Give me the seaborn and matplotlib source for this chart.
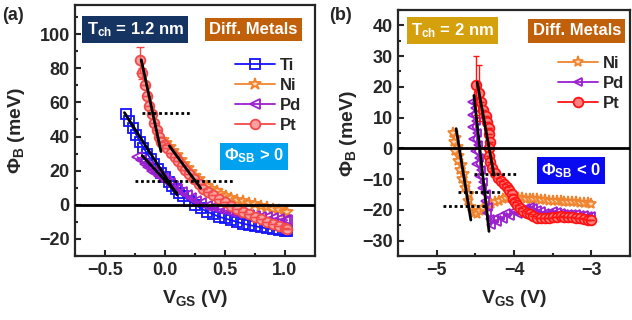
import numpy as np
import pandas as pd
import seaborn as sns
import matplotlib
matplotlib.use("Agg")
from matplotlib import pyplot as plt
from matplotlib.ticker import AutoMinorLocator, MultipleLocator

# ---------------------------------------------------------------- data (a)
# T_ch = 1.2 nm
ti_x = [-0.33, -0.30, -0.27, -0.24, -0.21, -0.18, -0.15, -0.12, -0.09, -0.06, -0.03, 0.0,
        0.03, 0.06, 0.09, 0.12, 0.15, 0.20, 0.25, 0.30, 0.35, 0.40, 0.45, 0.50, 0.55, 0.60,
        0.65, 0.70, 0.75, 0.80, 0.85, 0.90, 0.95, 1.00, 1.02]
ti_y = [53, 49, 45, 41, 37, 33.5, 30, 27, 24, 21, 18.5, 16, 13.5, 11, 9, 7, 5, 2.5, 0,
        -2, -4, -5.5, -7, -8, -9, -10, -11, -11.8, -12.5, -13.2, -13.8, -14.4, -15, -15.4, -15.6]

ni_a_x = [-0.02, 0.01, 0.04, 0.07, 0.10, 0.13, 0.16, 0.19, 0.22, 0.25, 0.28, 0.31, 0.35,
          0.39, 0.43, 0.47, 0.51, 0.55, 0.60, 0.65, 0.70, 0.75, 0.80, 0.85, 0.90, 0.95, 1.00, 1.02]
ni_a_y = [38, 36, 34, 31.5, 29, 26.5, 24, 21.5, 19, 17, 15, 13, 11, 9.5, 8, 6.5, 5.2, 4,
          3, 2, 1, 0.2, -0.6, -1.5, -2.3, -3.2, -4, -4.5]

pd_a_x = [-0.23, -0.20, -0.17, -0.14, -0.11, -0.08, -0.05, -0.02, 0.01, 0.04, 0.07, 0.10,
          0.14, 0.18, 0.22, 0.26, 0.30, 0.35, 0.40, 0.45, 0.50, 0.55, 0.60, 0.65, 0.70, 0.75,
          0.80, 0.85, 0.90, 0.95, 1.00, 1.02]
pd_a_y = [28, 26, 24, 22, 20, 18.5, 17, 15.5, 14, 12.5, 11, 9.5, 7.5, 5.5, 4, 2.5, 1, -0.5,
          -1.5, -2.5, -3.3, -4, -4.7, -5.3, -5.9, -6.4, -6.9, -7.4, -7.9, -8.4, -8.8, -9]

pt_a_x = [-0.21, -0.19, -0.17, -0.15, -0.13, -0.11, -0.09, -0.07, -0.05, -0.03, -0.01, 0.02,
          0.05, 0.08, 0.11, 0.14, 0.17, 0.20, 0.24, 0.28, 0.32, 0.36, 0.40, 0.45, 0.50, 0.55,
          0.60, 0.65, 0.70, 0.75, 0.80, 0.85, 0.90, 0.95, 1.00, 1.02]
pt_a_y = [85, 77, 70, 64, 58, 53, 48, 44, 40, 37, 35, 33, 30.5, 28, 25.5, 23, 20.5, 18, 15,
          12, 9.5, 7.5, 5.5, 3.5, 1.5, -0.5, -2.5, -4, -5.5, -7, -8.5, -10, -11.3, -12.5,
          -13.7, -14.2]
pt_a_err = [7.5, 3] + [0] * 34

# fitted slopes / threshold markers (a)
fit_a = [([-0.198, -0.034], [84.9, 31.2]),
         ([0.036, 0.297], [34.5, 9.8]),
         ([-0.339, 0.099], [54, 5.9]),
         ([-0.19, 0.099], [28.7, 6.8])]
dot_a = [([-0.19, 0.21], [53.5, 53.5]),
         ([-0.25, 0.57], [14, 14])]

# ---------------------------------------------------------------- data (b)
# T_ch = 2 nm
ni_b_x = [-4.79, -4.75, -4.78, -4.73, -4.76, -4.71, -4.73, -4.68, -4.70, -4.65, -4.67, -4.62,
          -4.63, -4.59, -4.60, -4.56, -4.52, -4.48, -4.44, -4.40, -4.35, -4.30, -4.25, -4.20,
          -4.15, -4.10, -4.05, -4.00, -3.95, -3.90, -3.85, -3.80, -3.75, -3.70, -3.65, -3.60,
          -3.55, -3.50, -3.45, -3.40, -3.35, -3.30, -3.25, -3.20, -3.15, -3.10, -3.05, -3.00]
ni_b_y = [5, 3.5, 2, 0.5, -1, -2.5, -4, -5.5, -7, -8.5, -10, -11.5, -13, -15, -17, -19, -21,
          -21.5, -20.5, -19.5, -19, -18, -17.5, -17, -16.5, -16, -16, -15.8, -16, -16.3, -16.5,
          -16.5, -16.4, -16.5, -16.7, -16.8, -17, -17, -17.1, -17.2, -17.3, -17.4, -17.5,
          -17.6, -17.7, -17.8, -17.9, -18]

pd_b_x = [-4.54, -4.50, -4.55, -4.49, -4.54, -4.48, -4.53, -4.47, -4.51, -4.45, -4.49, -4.43,
          -4.46, -4.40, -4.42, -4.37, -4.38, -4.34, -4.35, -4.31, -4.30, -4.26, -4.22, -4.18,
          -4.14, -4.10, -4.05, -4.00, -3.95, -3.90, -3.85, -3.80, -3.75, -3.70, -3.65, -3.60,
          -3.55, -3.50, -3.45, -3.40, -3.35, -3.30, -3.25, -3.20, -3.15, -3.10, -3.05, -3.00]
pd_b_y = [15, 13, 11, 9, 7, 5, 3, 1, -1, -3, -5, -7, -9, -11, -13, -15, -17, -19, -21, -23,
          -25, -23, -24, -22, -23, -21, -22, -20.5, -21.5, -20, -19.5, -19, -19.5, -20, -20.5,
          -21, -21, -20.5, -20.8, -21, -21.2, -21.4, -21.5, -21.3, -21.6, -21.8, -21.9, -22]

pt_b_x = [-4.49, -4.46, -4.43, -4.40, -4.37, -4.35, -4.33, -4.32, -4.31, -4.32, -4.33, -4.31,
          -4.28, -4.25, -4.21, -4.17, -4.13, -4.09, -4.06, -4.03, -4.01, -3.99, -3.96, -3.92,
          -3.88, -3.84, -3.80, -3.75, -3.70, -3.65, -3.60, -3.55, -3.50, -3.45, -3.40, -3.35,
          -3.30, -3.25, -3.20, -3.15, -3.10, -3.05, -3.00]
pt_b_y = [20.5, 18, 15, 12.5, 10.5, 8.5, 6.5, 4.5, 2, 0, -2.5, -4.5, -6.5, -8, -9.5, -10.5,
          -11.5, -12.5, -13.5, -15, -16.5, -17.5, -18.5, -19.5, -20.3, -21, -21.5, -22, -22.5,
          -22.8, -22.8, -22.5, -22.3, -22.2, -22, -22.2, -22.3, -22.4, -22.5, -22.7, -23,
          -23.2, -23.4]
pt_b_err = [9.5, 9] + [0] * 41

fit_b = [([-4.75, -4.56], [6.4, -23.3]),
         ([-4.52, -4.325], [17.2, -27]),
         ([-4.478, -4.26], [21.5, -8.7])]
dot_b = [([-4.52, -3.98], [-8.4, -8.4]),
         ([-4.72, -4.18], [-14.2, -14.2]),
         ([-4.92, -4.36], [-18.8, -18.8])]

# ---------------------------------------------------------------- style
sns.set_style("ticks")
plt.rcParams["font.family"] = ["Liberation Sans", "DejaVu Sans"]
plt.rcParams["font.weight"] = "bold"
plt.rcParams["axes.labelweight"] = "bold"
plt.rcParams["mathtext.fontset"] = "custom"
plt.rcParams["mathtext.rm"] = "Liberation Sans:bold"
plt.rcParams["mathtext.it"] = "Liberation Sans:bold"
plt.rcParams["mathtext.bf"] = "Liberation Sans:bold"
plt.rcParams["mathtext.default"] = "rm"

BLUE = "#1414ff"
ORANGE = "#f0832e"
PURPLE = "#9c1fd0"
RED_A = "#f24a4a"
RED_B = "#ff1414"

fig = plt.figure(figsize=(6.32, 3.2), dpi=100)
ax_a = fig.add_axes([0.119, 0.2, 0.379, 0.784])
ax_b = fig.add_axes([0.630, 0.2, 0.367, 0.769])


def draw(ax, x, y, color, marker, face, label, ms):
    df = pd.DataFrame({"x": x, "y": y})
    sns.lineplot(data=df, x="x", y="y", ax=ax, sort=False, estimator=None,
                 color=color, marker=marker, markersize=ms, markerfacecolor=face,
                 markeredgecolor=color, markeredgewidth=1.3, linewidth=1.3, label=label)


# panel (a)
draw(ax_a, ti_x, ti_y, BLUE, "s", "none", "Ti", 7)
draw(ax_a, ni_a_x, ni_a_y, ORANGE, "*", "#fbd9b8", "Ni", 9)
draw(ax_a, pd_a_x, pd_a_y, PURPLE, "<", "none", "Pd", 7)
draw(ax_a, pt_a_x, pt_a_y, RED_A, "o", "#f9a0a0", "Pt", 7)
ax_a.errorbar(pt_a_x, pt_a_y, yerr=pt_a_err, fmt="none", ecolor=RED_A, elinewidth=1, capsize=3)

# panel (b)
draw(ax_b, ni_b_x, ni_b_y, ORANGE, "*", "#fbd9b8", "Ni", 8)
draw(ax_b, pd_b_x, pd_b_y, PURPLE, "<", "none", "Pd", 6)
draw(ax_b, pt_b_x, pt_b_y, RED_B, "o", "#ff8080", "Pt", 7)
ax_b.errorbar(pt_b_x, pt_b_y, yerr=pt_b_err, fmt="none", ecolor=RED_B, elinewidth=1, capsize=2)

for ax, fits, dots in [(ax_a, fit_a, dot_a), (ax_b, fit_b, dot_b)]:
    for fx, fy in fits:
        ax.plot(fx, fy, color="black", lw=2, zorder=5)
    for dx, dy in dots:
        ax.plot(dx, dy, color="black", lw=2, ls=(0, (1, 1)), zorder=5)
    ax.axhline(0, color="black", lw=2, zorder=6)

ax_a.set_xlim(-0.75, 1.25)
ax_a.set_ylim(-30, 117)
ax_a.xaxis.set_major_locator(MultipleLocator(0.5))
ax_a.yaxis.set_major_locator(MultipleLocator(20))
ax_b.set_xlim(-5.5, -2.5)
ax_b.set_ylim(-35, 45)
ax_b.xaxis.set_major_locator(MultipleLocator(1))
ax_b.yaxis.set_major_locator(MultipleLocator(10))

for ax in (ax_a, ax_b):
    ax.xaxis.set_minor_locator(AutoMinorLocator(2))
    ax.yaxis.set_minor_locator(AutoMinorLocator(2))
    ax.tick_params(which="both", direction="in", width=1.5, labelsize=13, pad=4)
    ax.tick_params(which="major", length=4)
    ax.tick_params(which="minor", length=2.5)
    for sp in ax.spines.values():
        sp.set_linewidth(1.6)
    ax.set_xlabel("V$_{GS}$ (V)", fontsize=14, labelpad=7)
    ax.set_ylabel("Φ$_{B}$ (meV)", fontsize=14)

ax_a.set_xticklabels(["\u22120.5" if t < 0 else f"{t:.1f}" for t in ax_a.get_xticks()])

ax_a.yaxis.set_label_coords(-0.2, 0.5)
ax_b.yaxis.set_label_coords(-0.17, 0.5)

# legends
leg_a = ax_a.legend(loc="upper left", bbox_to_anchor=(0.64, 0.815), frameon=False,
                    fontsize=12, handlelength=2.4, handletextpad=0.3, labelspacing=0.3,
                    borderaxespad=0)
leg_b = ax_b.legend(loc="upper left", bbox_to_anchor=(0.66, 0.84), frameon=False,
                    fontsize=12, handlelength=2.4, handletextpad=0.3, labelspacing=0.3,
                    borderaxespad=0)


def tag(ax, x, y, text, color):
    ax.text(x, y, text, transform=ax.transAxes, ha="center", va="center", color="white",
            fontsize=12, fontweight="bold", zorder=10,
            bbox=dict(boxstyle="square,pad=0.25", fc=color, ec="none"))


tag(ax_a, 0.25, 0.904, "T$_{ch}$ = 1.2 nm", "#163462")
tag(ax_a, 0.744, 0.904, "Diff. Metals", "#c0600a")
tag(ax_a, 0.746, 0.398, "Φ$_{SB}$ > 0", "#00a2f0")
tag(ax_b, 0.234, 0.915, "T$_{ch}$ = 2 nm", "#d4a00c")
tag(ax_b, 0.77, 0.915, "Diff. Metals", "#c0600a")
tag(ax_b, 0.745, 0.347, "Φ$_{SB}$ < 0", "#0a0af0")

fig.text(0.003, 0.953, "(a)", fontsize=13, fontweight="bold", va="center")
fig.text(0.52, 0.953, "(b)", fontsize=13, fontweight="bold", va="center")

fig.savefig("out.png", dpi=100)
